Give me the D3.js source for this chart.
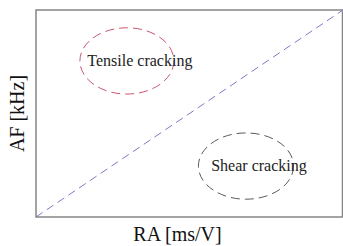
<!DOCTYPE html>
<html>
<head>
<meta charset="utf-8">
<script src="https://cdn.jsdelivr.net/npm/d3@7"></script>
<style>
body { margin: 0; background: #fff; }
text { font-family: "Liberation Serif", "Times New Roman", "DejaVu Serif", serif; }
</style>
</head>
<body>
<div id="container"></div>
<script>
// diagonal boundary between the two regions (normalised RA, AF)
var boundaryX = [0, 1];
var boundaryY = [0, 1];
// crack type regions: label, centre and radii in data units
var regionNames = ["Tensile cracking", "Shear cracking"];
var regionCx = [0.296, 0.684];
var regionCy = [0.754, 0.246];
var regionRx = [0.153, 0.155];
var regionRy = [0.16, 0.16];
var regionColors = ["#c9556e", "#5a5a5a"];

var width = 343, height = 246;
var margin = {top: 10, right: 0, bottom: 29, left: 36};
var w = width - margin.left - margin.right,
    h = height - margin.top - margin.bottom;

var svg = d3.select("#container")
    .append("svg")
    .attr("width", width)
    .attr("height", height);

var g = svg.append("g")
    .attr("transform", "translate(" + margin.left + "," + margin.top + ")");

var x = d3.scaleLinear().domain([0, 1]).range([0, w]);
var y = d3.scaleLinear().domain([0, 1]).range([h, 0]);

// frame
g.append("rect")
    .attr("x", 0).attr("y", 0)
    .attr("width", w - 0.5).attr("height", h)
    .attr("fill", "none")
    .attr("stroke", "#858585")
    .attr("stroke-width", 1.5);

// dashed diagonal
var line = d3.line()
    .x(function(d) { return x(d[0]); })
    .y(function(d) { return y(d[1]); });
g.append("path")
    .datum(d3.zip(boundaryX, boundaryY))
    .attr("d", line)
    .attr("fill", "none")
    .attr("stroke", "#8078c8")
    .attr("stroke-width", 1)
    .attr("stroke-dasharray", "8,5");

var regions = regionNames.map(function(n, i) {
    return {name: n, cx: regionCx[i], cy: regionCy[i], rx: regionRx[i], ry: regionRy[i], color: regionColors[i]};
});

g.selectAll("ellipse")
    .data(regions)
    .enter()
    .append("ellipse")
    .attr("cx", function(d) { return x(d.cx); })
    .attr("cy", function(d) { return y(d.cy); })
    .attr("rx", function(d) { return x(d.rx) - x(0); })
    .attr("ry", function(d) { return y(0) - y(d.ry); })
    .attr("fill", "none")
    .attr("stroke", function(d) { return d.color; })
    .attr("stroke-width", 1)
    .attr("stroke-dasharray", "9,5");

g.selectAll(".lbl")
    .data(regions)
    .enter()
    .append("text")
    .attr("class", "lbl")
    .attr("x", function(d) { return x(d.cx) + 13; })
    .attr("y", function(d) { return y(d.cy) + 5; })
    .attr("text-anchor", "middle")
    .attr("font-size", "16px")
    .attr("fill", "#222")
    .text(function(d) { return d.name; });

// axis titles
svg.append("text")
    .attr("x", 177.5)
    .attr("y", 241)
    .attr("text-anchor", "middle")
    .attr("font-size", "20px")
    .attr("fill", "#111")
    .text("RA [ms/V]");

svg.append("text")
    .attr("transform", "translate(24," + (margin.top + h / 2) + ") rotate(-90)")
    .attr("text-anchor", "middle")
    .attr("font-size", "20px")
    .attr("fill", "#111")
    .text("AF [kHz]");
</script>
</body>
</html>
